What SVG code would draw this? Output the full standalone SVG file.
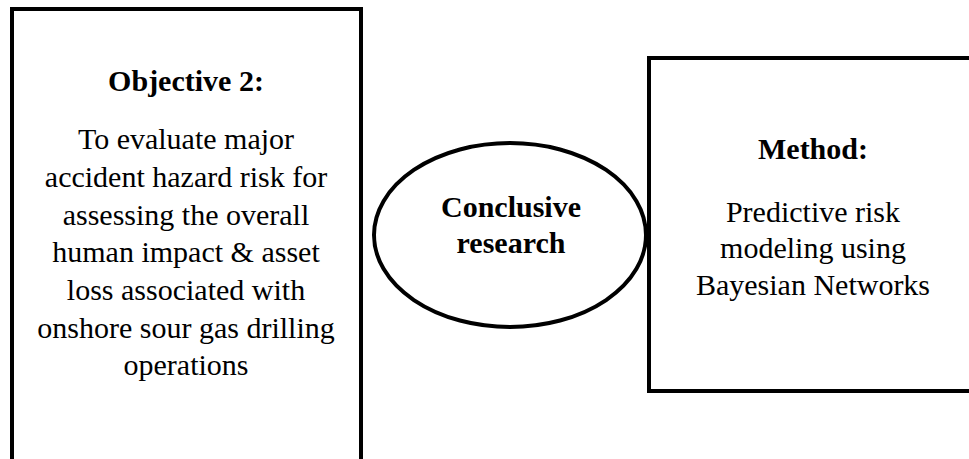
<svg xmlns="http://www.w3.org/2000/svg" width="969" height="459" viewBox="0 0 969 459">
  <style>
    .box { fill: #ffffff; stroke: #000000; stroke-width: 4; }
    .t { font-family: "Liberation Serif", "Times New Roman", serif; font-size: 30px; fill: #000000; text-anchor: middle; }
    .b { font-weight: bold; }
  </style>
  <rect x="0" y="0" width="969" height="459" fill="#ffffff"/>
  <g id="objective">
    <rect class="box" x="12" y="9" width="349" height="470"/>
    <text class="t b" x="186" y="91">Objective 2:</text>
    <text class="t" x="186" y="149">To evaluate major</text>
    <text class="t" x="186" y="187">accident hazard risk for</text>
    <text class="t" x="186" y="225">assessing the overall</text>
    <text class="t" x="186" y="262">human impact &amp; asset</text>
    <text class="t" x="186" y="300">loss associated with</text>
    <text class="t" x="186" y="338">onshore sour gas drilling</text>
    <text class="t" x="186" y="375">operations</text>
  </g>
  <g id="method">
    <rect class="box" x="649" y="58" width="340" height="333"/>
    <text class="t b" x="813" y="159">Method:</text>
    <text class="t" x="813" y="222">Predictive risk</text>
    <text class="t" x="813" y="258">modeling using</text>
    <text class="t" x="813" y="295">Bayesian Networks</text>
  </g>
  <g id="conclusive">
    <ellipse class="box" cx="510" cy="235" rx="136" ry="92"/>
    <text class="t b" x="511" y="217">Conclusive</text>
    <text class="t b" x="511" y="253">research</text>
  </g>
  <g id="connectors"></g>
</svg>
